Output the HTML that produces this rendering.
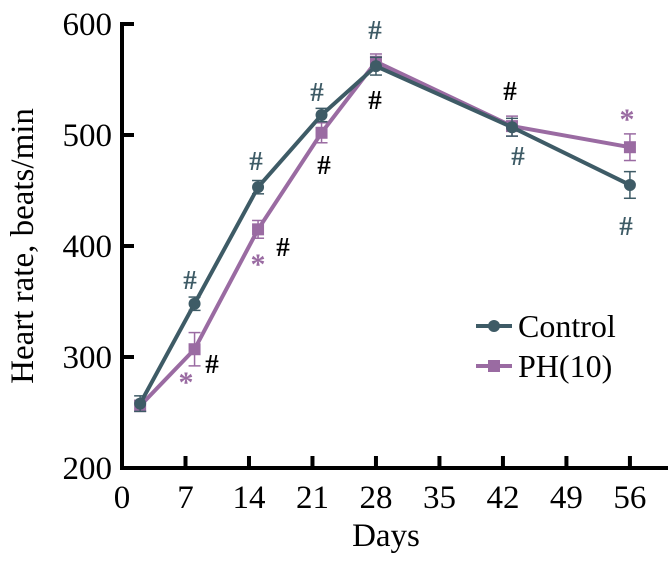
<!DOCTYPE html>
<html><head><meta charset="utf-8"><style>
body{margin:0;background:#fff}
text{font-family:"Liberation Serif",serif}
</style></head><body>
<svg id="c" width="668" height="557" xmlns="http://www.w3.org/2000/svg"></svg>
<script>
const days=[2,8,15,22,28,43,56];
const control=[258,348,453,518,562,507,455];
const controlErr=[7,6,6,6,8,8,12];
const ph=[256,307,415,502,566,508,489];
const phErr=[5,15,8,9,7,9,12];
const xTicks=[0,7,14,21,28,35,42,49,56];
const yTicks=[200,300,400,500,600];
const NS="http://www.w3.org/2000/svg";
const svg=document.getElementById('c');
const X=d=>122+d*9.07;
const Y=v=>468-(v-200)*1.11;
function mk(t,a,p){const e=document.createElementNS(NS,t);for(const k in a)e.setAttribute(k,a[k]);(p||svg).appendChild(e);return e;}
const axes=mk('g',{});


mk('line',{x1:122,y1:22,x2:122,y2:470,stroke:'#000','stroke-width':4},axes);
mk('line',{x1:120,y1:468,x2:668,y2:468,stroke:'#000','stroke-width':4},axes);
yTicks.forEach(v=>{
  mk('line',{x1:122,y1:Y(v),x2:134,y2:Y(v),stroke:'#000','stroke-width':4},axes);
  const t=mk('text',{x:112,y:Y(v)+11,'text-anchor':'end','font-size':33},axes);
  
  
  t.textContent=v;
});
xTicks.forEach(d=>{
  if(d>0)mk('line',{x1:X(d),y1:468,x2:X(d),y2:456,stroke:'#000','stroke-width':4},axes);
  const t=mk('text',{x:X(d),y:508,'text-anchor':'middle','font-size':33},axes);
  
  
  t.textContent=d;
});
const xt=mk('text',{x:386,y:546,'text-anchor':'middle','font-size':33});


xt.textContent='Days';
const yt=mk('text',{x:0,y:0,'text-anchor':'middle','font-size':33,transform:'translate(33,246) rotate(-90)'});


yt.textContent='Heart rate, beats/min';
function series(vals,errs,col,shape,name){
  const g=mk('g',{});
  
  
  vals.forEach((v,i)=>{
    const x=X(days[i]);
    mk('line',{x1:x,y1:Y(v-errs[i]),x2:x,y2:Y(v+errs[i]),stroke:col,'stroke-width':1.5},g);
    mk('line',{x1:x-6,y1:Y(v-errs[i]),x2:x+6,y2:Y(v-errs[i]),stroke:col,'stroke-width':1.5},g);
    mk('line',{x1:x-6,y1:Y(v+errs[i]),x2:x+6,y2:Y(v+errs[i]),stroke:col,'stroke-width':1.5},g);
  });
  mk('polyline',{points:vals.map((v,i)=>X(days[i])+','+Y(v)).join(' '),fill:'none',stroke:col,'stroke-width':4},g);
  vals.forEach((v,i)=>{
    const x=X(days[i]),y=Y(v);
    let m;
    if(shape==='c')m=mk('circle',{cx:x,cy:y,r:6,fill:col},g);
    else m=mk('rect',{x:x-6,y:y-6,width:12,height:12,fill:col},g);
    
    
  });
}
const cC='#3e5b66',cP='#9a6ba2';
series(ph,phErr,cP,'s','ph10');
series(control,controlErr,cC,'c','control');
const ann=[[190,289,'#',cC],[186,392,'*',cP],[212,373,'#','#000'],
[256,170,'#',cC],[258,274,'*',cP],[283,256,'#','#000'],
[317,101,'#',cC],[324,174,'#','#000'],
[375,39,'#',cC],[375,109,'#','#000'],
[510,100,'#','#000'],[518,165,'#',cC],
[627,129,'*',cP],[626,235,'#',cC]];
ann.forEach(a=>{
  const t=mk('text',{x:a[0],y:a[1],'text-anchor':'middle','font-size':a[2]==='*'?30:27,'font-weight':'bold',fill:a[3]});
  
  
  t.textContent=a[2];
});
const lg=mk('g',{});


[[cC,'c','Control',326],[cP,'s','PH(10)',366]].forEach(l=>{
  const e=mk('g',{},lg);
  
  
  mk('line',{x1:476,y1:l[3],x2:512,y2:l[3],stroke:l[0],'stroke-width':4},e);
  if(l[1]==='c')mk('circle',{cx:494,cy:l[3],r:6,fill:l[0]},e);
  else mk('rect',{x:488,y:l[3]-6,width:12,height:12,fill:l[0]},e);
  const t=mk('text',{x:518,y:l[3]+11,'font-size':32},e);
  t.textContent=l[2];
});
</script>
</body></html>
